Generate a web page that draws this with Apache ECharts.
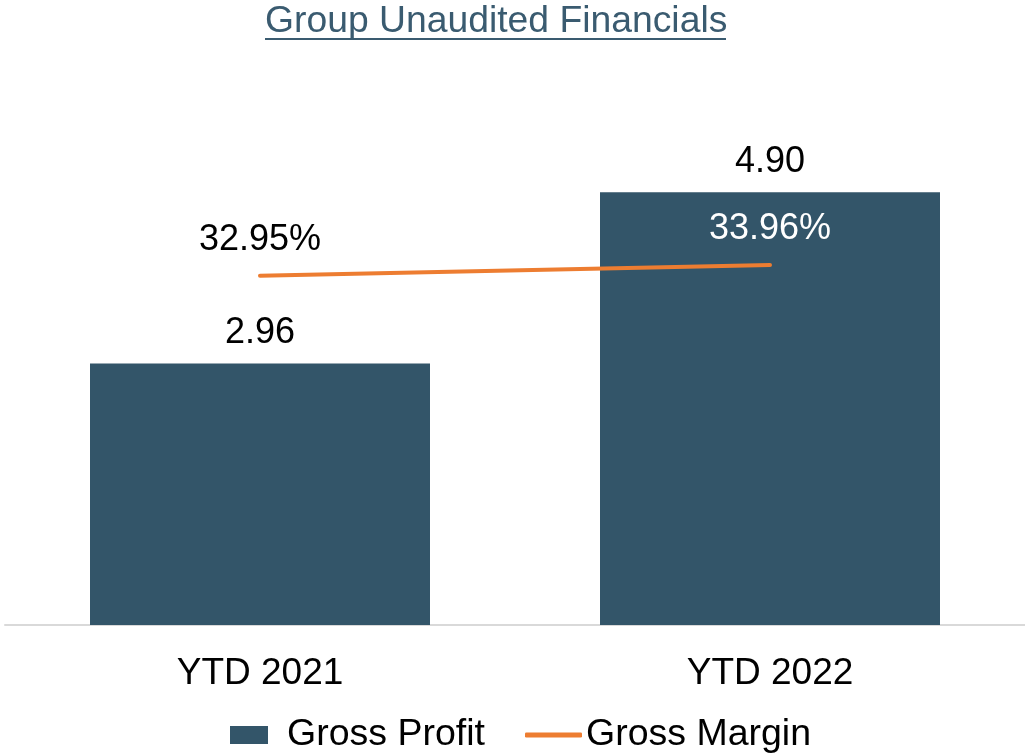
<!DOCTYPE html>
<html>
<head>
<meta charset="utf-8">
<script src="https://cdn.jsdelivr.net/npm/echarts@6/dist/echarts.min.js"></script>
<style>
    html, body { margin: 0; padding: 0; background: #fff; }
    #main { width: 1025px; height: 756px; }
</style>
</head>
<body>
<div id="main"></div>
<script>
// chart data
var categories = ['YTD 2021', 'YTD 2022'];
var grossProfit = [2.96, 4.90];
var grossMargin = [32.95, 33.96]; // percent

var barColor = '#335569';
var lineColor = '#ED7D31';
var titleColor = '#3a5b70';
var font = 'Liberation Sans, Arial, sans-serif';

var myChart = echarts.init(document.getElementById('main'));

var option = {
    animation: false,
    title: {
        text: 'Group Unaudited Financials',
        left: 265,
        top: 3,
        padding: 0,
        textStyle: {
            fontFamily: font,
            fontSize: 37.3,
            fontWeight: 'normal',
            color: titleColor
        }
    },
    // underline for the title
    graphic: [{
        type: 'rect',
        shape: { x: 265, y: 38, width: 461, height: 2 },
        style: { fill: titleColor }
    }],
    legend: [{
        data: ['Gross Profit'],
        left: 230,
        top: 716,
        padding: 0,
        icon: 'rect',
        itemWidth: 38,
        itemHeight: 18,
        textStyle: { fontFamily: font, fontSize: 37.5, color: '#000', padding: [3, 0, 0, 14] }
    }, {
        data: ['Gross Margin'],
        left: 525,
        top: 716,
        padding: 0,
        icon: 'roundRect',
        itemWidth: 57,
        itemHeight: 5,
        textStyle: { fontFamily: font, fontSize: 37.5, color: '#000', padding: [3, 0, 0, -1] }
    }],
    grid: {
        left: 5,
        right: 0,
        top: 95,
        bottom: 131
    },
    xAxis: {
        type: 'category',
        data: categories,
        axisLine: { lineStyle: { color: '#d9d9d9', width: 2 } },
        axisTick: { show: false },
        axisLabel: {
            margin: 30,
            fontFamily: font,
            fontSize: 37,
            color: '#000'
        }
    },
    yAxis: [{
        type: 'value',
        min: 0,
        max: 6,
        show: false
    }, {
        type: 'value',
        min: 0,
        max: 50,
        show: false
    }],
    series: [{
        name: 'Gross Profit',
        type: 'bar',
        data: grossProfit,
        barWidth: 340,
        itemStyle: { color: barColor },
        label: {
            show: true,
            position: 'top',
            distance: 12,
            fontFamily: font,
            fontSize: 36,
            color: '#000',
            formatter: function (p) { return p.value.toFixed(2); }
        }
    }, {
        name: 'Gross Margin',
        type: 'line',
        yAxisIndex: 1,
        data: grossMargin.map(function (v, i) {
            // second label sits on the bar, white text
            return i === 1 ? { value: v, label: { color: '#fff' } } : v;
        }),
        symbol: 'circle',
        symbolSize: 1,
        showSymbol: true,
        lineStyle: { color: lineColor, width: 4, cap: 'round' },
        itemStyle: { color: lineColor },
        label: {
            show: true,
            position: 'top',
            distance: 17,
            fontFamily: font,
            fontSize: 36,
            color: '#000',
            formatter: function (p) { return p.value.toFixed(2) + '%'; }
        },
        labelLayout: { hideOverlap: false }
    }]
};

myChart.setOption(option);
</script>
</body>
</html>
